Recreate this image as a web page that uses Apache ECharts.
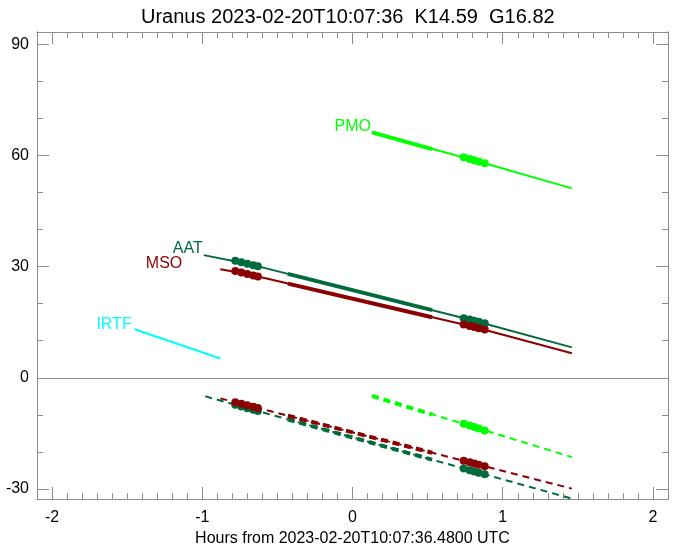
<!DOCTYPE html>
<html>
<head>
<meta charset="utf-8">
<script src="https://cdn.jsdelivr.net/npm/echarts@6/dist/echarts.min.js"></script>
<style>
  html, body { margin: 0; padding: 0; background: #fff; }
  #chart { width: 678px; height: 544px; }
</style>
</head>
<body>
<div id="chart"></div>
<script>
// axis ticks
const xMajor = [-2, -1, 0, 1, 2];
const yMajor = [-30, 0, 30, 60, 90];

// tracks: [hours, value]  (solid = upper, dashed = lower)
const pmoTrack = [[0.13, 66.2], [0.81, 58.7], [1.46, 51.1]];
const pmoThick = [[0.13, 66.2], [0.53, 61.7]];
const pmoDots = [[0.74, 59.5], [0.78, 59.05], [0.81, 58.7], [0.84, 58.35], [0.88, 57.9]];

const aatTrack = [[-0.99, 33.1], [-0.70, 30.8], [0.81, 15.4], [1.46, 8.2]];
const aatThick = [[-0.43, 28.05], [0.53, 18.25]];
const aatDots = [[-0.78, 31.6], [-0.74, 31.2], [-0.70, 30.8], [-0.66, 30.4], [-0.63, 30.1],
                 [0.74, 16.1], [0.78, 15.7], [0.81, 15.4], [0.84, 15.1], [0.88, 14.7]];

const msoTrack = [[-0.88, 29.3], [-0.70, 28.0], [0.81, 13.7], [1.46, 6.6]];
const msoThick = [[-0.43, 25.4], [0.53, 16.35]];
const msoDots = [[-0.78, 28.8], [-0.74, 28.4], [-0.70, 28.0], [-0.66, 27.6], [-0.63, 27.3],
                 [0.74, 14.4], [0.78, 14.0], [0.81, 13.7], [0.84, 13.4], [0.88, 13.0]];

const irtfTrack = [[-1.45, 13.1], [-0.88, 5.2]];

const pmoTrack2 = [[0.13, -4.9], [0.81, -13.3], [1.46, -21.4]];
const pmoThick2 = [[0.13, -4.9], [0.53, -9.9]];
const pmoDots2 = [[0.74, -12.4], [0.78, -12.9], [0.81, -13.3], [0.84, -13.7], [0.88, -14.2]];

const aatTrack2 = [[-0.98, -5.0], [1.46, -32.6]];
const aatThick2 = [[-0.43, -11.24], [0.53, -22.09]];
const aatDots2 = [[-0.78, -7.29], [-0.74, -7.74], [-0.70, -8.19], [-0.66, -8.64], [-0.63, -8.98],
                  [0.74, -24.46], [0.78, -24.91], [0.81, -25.25], [0.84, -25.59], [0.88, -26.04]];

const msoTrack2 = [[-0.88, -5.55], [1.46, -29.9]];
const msoThick2 = [[-0.43, -10.23], [0.53, -20.21]];
const msoDots2 = [[-0.78, -6.59], [-0.74, -7.0], [-0.70, -7.42], [-0.66, -7.84], [-0.63, -8.15],
                  [0.74, -22.4], [0.78, -22.81], [0.81, -23.12], [0.84, -23.44], [0.88, -23.85]];

const names = ['PMO', 'AAT', 'MSO', 'IRTF'];
const colors = { PMO: '#00ff00', AAT: '#006b3c', MSO: '#8b0000', IRTF: '#00ffff' };

const frame = '#8c8c8c';
const font = 'Liberation Sans';

// minor ticks every 0.1 h / 10 deg
let xMinor = [];
for (let i = -20; i <= 20; i++) xMinor.push(i / 10);
let yMinor = [];
for (let v = -30; v <= 90; v += 10) yMinor.push(v);

function ticksAxis(pos, values, len, showLabel, extra) {
  return Object.assign({
    type: 'value',
    position: pos,
    axisLine: { show: true, onZero: false, lineStyle: { color: frame, width: 1 } },
    axisTick: { show: true, inside: true, length: len, customValues: values, lineStyle: { color: frame } },
    axisLabel: showLabel
      ? { show: true, customValues: values, color: '#000', fontSize: 16, fontFamily: font,
          margin: (pos === 'bottom') ? 11 : 8 }
      : { show: false },
    splitLine: { show: false }
  }, extra);
}

const xr = { min: -2.1, max: 2.1 };
const yr = { min: -32.7, max: 93.3 };

function line(data, color, width, dashed) {
  return {
    type: 'line', data: data, symbol: 'none', showSymbol: false, silent: true,
    lineStyle: { color: color, width: width, type: dashed ? [7, 5] : 'solid' }, z: 2
  };
}
function dots(data, color) {
  return { type: 'scatter', data: data, symbol: 'circle', symbolSize: 8, silent: true,
           itemStyle: { color: color, opacity: 1 }, z: 3 };
}

const starts = { PMO: pmoTrack[0], AAT: aatTrack[0], MSO: msoTrack[0], IRTF: irtfTrack[0] };
const labelShift = { PMO: [0, -6], AAT: [0, -7], MSO: [-37, -6], IRTF: [-2, -5] };

const labelSeries = {
  type: 'scatter', symbolSize: 0, silent: true, z: 4,
  itemStyle: { opacity: 1 },
  data: names.map(n => ({
    value: starts[n],
    label: {
      show: true, formatter: n, position: 'left', distance: 1, offset: labelShift[n],
      color: colors[n], fontSize: 16, fontFamily: font, opacity: 1
    }
  }))
};

const chart = echarts.init(document.getElementById('chart'));
chart.setOption({
  animation: false,
  backgroundColor: '#fff',
  grid: { left: 37, right: 10, top: 32, bottom: 45, outerBoundsMode: 'none', containLabel: false },
  graphic: [{
    type: 'text', left: 352 - 211, top: 7,
    style: { text: 'Uranus 2023-02-20T10:07:36  K14.59  G16.82', fontSize: 20, fontFamily: font, fill: '#000' }
  }],
  xAxis: [
    ticksAxis('bottom', xMajor, 12, true, Object.assign({
      name: 'Hours from 2023-02-20T10:07:36.4800 UTC', nameLocation: 'middle', nameGap: 24,
      nameTextStyle: { fontSize: 16, fontFamily: font, color: '#000' }
    }, xr)),
    ticksAxis('bottom', xMinor, 6, false, xr),
    ticksAxis('top', xMajor, 12, false, xr),
    ticksAxis('top', xMinor, 6, false, xr)
  ],
  yAxis: [
    ticksAxis('left', yMajor, 12, true, yr),
    ticksAxis('left', yMinor, 6, false, yr),
    ticksAxis('right', yMajor, 12, false, yr),
    ticksAxis('right', yMinor, 6, false, yr)
  ],
  series: [
    Object.assign(line(irtfTrack, colors.IRTF, 2, false), {
      markLine: { silent: true, symbol: 'none', label: { show: false },
                  lineStyle: { color: frame, width: 1, type: 'solid' }, data: [{ yAxis: 0 }] }
    }),
    line(pmoTrack, colors.PMO, 2, false),
    line(pmoThick, colors.PMO, 4, false),
    dots(pmoDots, colors.PMO),
    line(aatTrack, colors.AAT, 2, false),
    line(aatThick, colors.AAT, 4, false),
    dots(aatDots, colors.AAT),
    line(msoTrack, colors.MSO, 2, false),
    line(msoThick, colors.MSO, 4, false),
    dots(msoDots, colors.MSO),
    line(pmoTrack2, colors.PMO, 2, true),
    line(pmoThick2, colors.PMO, 4, true),
    dots(pmoDots2, colors.PMO),
    line(aatTrack2, colors.AAT, 2, true),
    line(aatThick2, colors.AAT, 4, true),
    dots(aatDots2, colors.AAT),
    line(msoTrack2, colors.MSO, 2, true),
    line(msoThick2, colors.MSO, 4, true),
    dots(msoDots2, colors.MSO),
    labelSeries
  ]
});
</script>
</body>
</html>
